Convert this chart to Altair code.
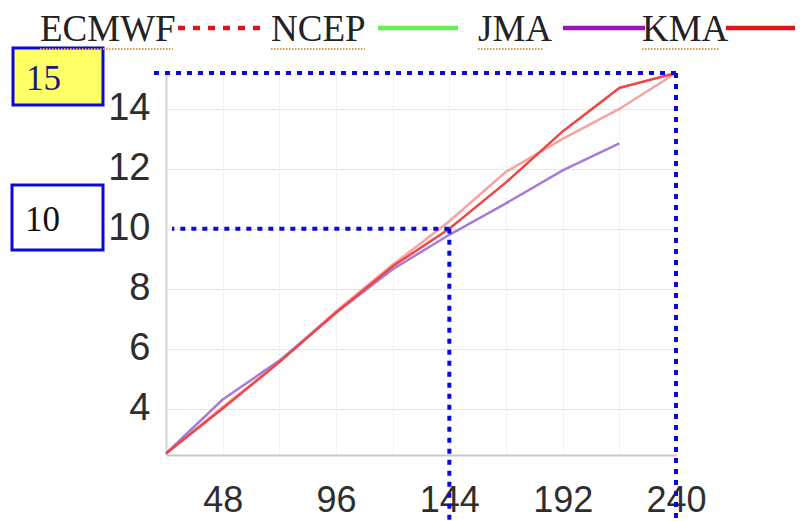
import altair as alt
import pandas as pd

# ---- data ----
lead = [24, 48, 72, 96, 120, 144, 168, 192, 216, 240]
ecmwf = [2.5, 4.05, 5.55, 7.25, 8.8, 10.25, 11.9, 13.0, 14.0, 15.2]
jma = [2.5, 4.3, 5.6, 7.2, 8.65, 9.8, 10.85, 11.95, 12.85, None]
kma = [2.5, 4.0, 5.55, 7.2, 8.75, 10.0, 11.55, 13.25, 14.7, 15.2]

series_names = ["ECMWF", "JMA", "KMA"]
line_colors = ["#f7a3a3", "#a67bd8", "#ef4545"]

legend_names = ["ECMWF", "NCEP", "JMA", "KMA"]
legend_colors = ["#e01515", "#66ee55", "#9a12b8", "#e01515"]

x_ticks = [24, 48, 72, 96, 120, 144, 168, 192, 216, 240]
y_ticks = [4, 6, 8, 10, 12, 14]

ann_lead = [144, 240]
ann_value = [10.0, 15.2]
ann_label = ["10", "15"]

# ---- layout (pixels, relative to plot origin) ----
legend_text_x = [-126, 105, 312, 476]
legend_text_w = [133, 94, 66, 78]
legend_line_x = [(12, 99), (212, 292), (397, 479), (560, 637)]
ann_hline_start = [6, -16]
ann_box = [(-154, -63, 112, 177), (-153, -63, -25, 32)]
ann_box_fill = ["#ffffff", "#ffff66"]
ann_text_color = ["#111111", "#1a1a7a"]
BLUE = "#0a0ad8"

rows = []
for name, vals in zip(series_names, [ecmwf, jma, kma]):
    for h, v in zip(lead, vals):
        if v is not None:
            rows.append({"lead": h, "value": v, "model": name})
df = pd.DataFrame(rows)

xs = alt.Scale(domain=[24, 240], nice=False, zero=False)
ys = alt.Scale(domain=[2.45, 15.2], nice=False, zero=False)
x_axis = alt.Axis(values=x_ticks, labelExpr="datum.value % 48 == 0 ? datum.label : ''",
                  grid=True, gridColor="#e4e4e4", gridDash=[2, 2], ticks=False,
                  domainColor="#c8c8c8", domainWidth=2, labelFont="Liberation Sans",
                  labelFontSize=36, labelColor="#2e2e2e", labelPadding=28, title=None,
                  labelFlush=False, labelOverlap=False)
y_axis = alt.Axis(values=y_ticks, grid=True, gridColor="#f2e2e2", ticks=False,
                  domainColor="#d4d4d4", domainWidth=2, labelFont="Liberation Sans",
                  labelFontSize=38, labelColor="#2e2e2e", labelPadding=16, title=None)
X = alt.X("lead:Q", scale=xs, axis=x_axis)
Y = alt.Y("value:Q", scale=ys, axis=y_axis)

lines = alt.Chart(df).mark_line(strokeWidth=2.5).encode(
    x=X, y=Y,
    color=alt.Color("model:N", scale=alt.Scale(domain=series_names, range=line_colors), legend=None),
)

layers = [lines]
ann_df = pd.DataFrame({"lead": ann_lead, "value": ann_value, "label": ann_label})
for i in range(len(ann_lead)):
    d = ann_df.iloc[[i]]
    layers.append(alt.Chart(d).mark_rule(color=BLUE, strokeWidth=4, strokeDash=[5, 6]).encode(
        x=X, x2=alt.value(ann_hline_start[i]), y=Y))
    layers.append(alt.Chart(d).mark_rule(color=BLUE, strokeWidth=4, strokeDash=[5, 6]).encode(
        x=X, y=Y, y2=alt.value(448)))
    bx1, bx2, by1, by2 = ann_box[i]
    layers.append(alt.Chart(d).mark_rect(fill=ann_box_fill[i], stroke=BLUE, strokeWidth=3).encode(
        x=alt.value(bx1), x2=alt.value(bx2), y=alt.value(by1), y2=alt.value(by2)))
    layers.append(alt.Chart(d).mark_text(font="Liberation Serif", fontSize=35, align="left",
                                         baseline="middle", color=ann_text_color[i]).encode(
        x=alt.value(bx1 + 13), y=alt.value((by1 + by2) / 2 + 2), text="label:N"))

leg_df = pd.DataFrame({"name": legend_names, "color": legend_colors})
for i, name in enumerate(legend_names):
    d = leg_df.iloc[[i]]
    layers.append(alt.Chart(d).mark_text(font="Liberation Serif", fontSize=37, align="left",
                                         baseline="alphabetic", color="#222222").encode(
        x=alt.value(legend_text_x[i]), y=alt.value(-32), text="name:N"))
    layers.append(alt.Chart(d).mark_rule(color="#dc9c50", strokeWidth=2, strokeDash=[1.5, 1.5]).encode(
        x=alt.value(legend_text_x[i]), x2=alt.value(legend_text_x[i] + legend_text_w[i]),
        y=alt.value(-24)))
    x1, x2 = legend_line_x[i]
    dash = [7, 8] if i == 0 else [1, 0]
    layers.append(alt.Chart(d).mark_rule(color=legend_colors[i], strokeWidth=4.5, strokeDash=dash).encode(
        x=alt.value(x1), x2=alt.value(x2), y=alt.value(-45)))

# partial glyph at right edge
layers.append(alt.Chart(leg_df.iloc[[0]]).mark_rule(color="#111111", strokeWidth=3).encode(
    x=alt.value(635), y=alt.value(257), y2=alt.value(302)))

chart = alt.layer(*layers).properties(
    width=510, height=382,
    autosize=alt.AutoSizeParams(type="none"),
    padding={"left": 158, "top": 65, "right": 119, "bottom": 66},
    background="white",
).configure_view(stroke=None)

chart.save("out.html", embed_options={"renderer": "svg", "actions": False})
